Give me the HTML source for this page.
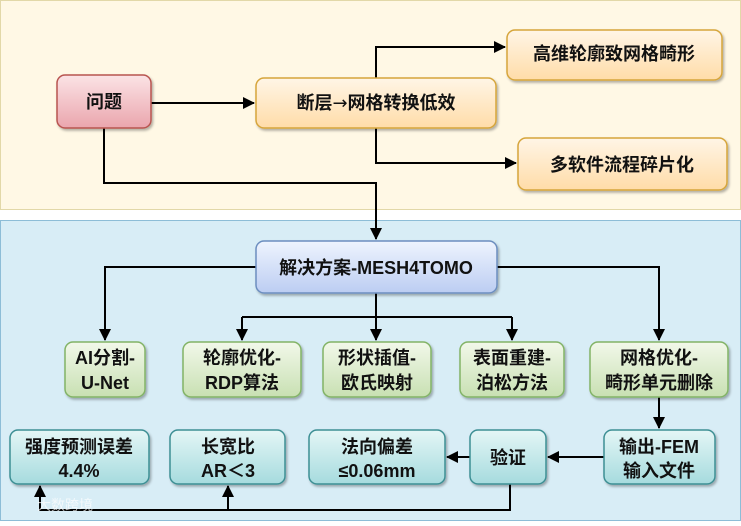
<!DOCTYPE html>
<html><head><meta charset="utf-8"><style>
html,body{margin:0;padding:0;background:#fff;}
svg text{font-family:"Liberation Sans","Noto Sans CJK SC",sans-serif;font-weight:bold;font-size:18px;fill:#111;text-anchor:middle;dominant-baseline:central;}
</style></head><body>
<svg width="741" height="521" viewBox="0 0 741 521" xmlns="http://www.w3.org/2000/svg">
<defs>
<linearGradient id="gp" x1="0" y1="0" x2="0" y2="1"><stop offset="0" stop-color="#fbe3e5"/><stop offset="1" stop-color="#eaa5ad"/></linearGradient>
<linearGradient id="go" x1="0" y1="0" x2="0" y2="1"><stop offset="0" stop-color="#fff5e6"/><stop offset="1" stop-color="#ffdca8"/></linearGradient>
<linearGradient id="gb" x1="0" y1="0" x2="0" y2="1"><stop offset="0" stop-color="#eef4fe"/><stop offset="1" stop-color="#bccdf2"/></linearGradient>
<linearGradient id="gg" x1="0" y1="0" x2="0" y2="1"><stop offset="0" stop-color="#f2f8ea"/><stop offset="1" stop-color="#c8e0b2"/></linearGradient>
<linearGradient id="gt" x1="0" y1="0" x2="0" y2="1"><stop offset="0" stop-color="#e4f6f6"/><stop offset="1" stop-color="#a6dbde"/></linearGradient>
<marker id="a" markerWidth="12" markerHeight="12" refX="11" refY="6" orient="auto" markerUnits="userSpaceOnUse"><path d="M0,0 L12,6 L0,12 Z" fill="#000"/></marker>
<filter id="s" x="-10%" y="-10%" width="130%" height="140%"><feDropShadow dx="1.5" dy="2" stdDeviation="1.2" flood-opacity="0.3"/></filter>
</defs>
<rect x="0.5" y="0.5" width="740" height="209" fill="#fff8e5" stroke="#e2d8a8"/>
<rect x="0.5" y="220.5" width="740" height="300" fill="#d8edf6" stroke="#8dbdd7"/>

<g fill="none" stroke="#000" stroke-width="2">
<path d="M151,103 H254" marker-end="url(#a)"/>
<path d="M376,78 V47 H505" marker-end="url(#a)"/>
<path d="M376,128 V163 H516" marker-end="url(#a)"/>
<path d="M104,128 V183 H376 V239" marker-end="url(#a)"/>
<path d="M256,267 H105 V340" marker-end="url(#a)"/>
<path d="M497,267 H659 V340" marker-end="url(#a)"/>
<path d="M376,293 V340" marker-end="url(#a)"/>
<path d="M242,317 H512"/>
<path d="M242,317 V340" marker-end="url(#a)"/>
<path d="M512,317 V340" marker-end="url(#a)"/>
<path d="M659,397 V428" marker-end="url(#a)"/>
<path d="M604,457 H548" marker-end="url(#a)"/>
<path d="M470,457 H447" marker-end="url(#a)"/>
<path d="M510,484 V510 H40 V486" marker-end="url(#a)"/>
<path d="M228,510 V486" marker-end="url(#a)"/>
</g>

<g filter="url(#s)" stroke-width="1.5">
<rect x="57" y="75" width="94" height="53" rx="8" fill="url(#gp)" stroke="#b85450"/>
<rect x="256" y="78" width="240" height="50" rx="8" fill="url(#go)" stroke="#d6a53b"/>
<rect x="507" y="30" width="215" height="50" rx="8" fill="url(#go)" stroke="#d6a53b"/>
<rect x="518" y="138" width="209" height="52" rx="8" fill="url(#go)" stroke="#d6a53b"/>
<rect x="256" y="241" width="241" height="52" rx="8" fill="url(#gb)" stroke="#6c8ebf"/>
<rect x="65" y="342" width="80" height="55" rx="8" fill="url(#gg)" stroke="#82b366"/>
<rect x="183" y="342" width="118" height="55" rx="8" fill="url(#gg)" stroke="#82b366"/>
<rect x="323" y="342" width="108" height="55" rx="8" fill="url(#gg)" stroke="#82b366"/>
<rect x="460" y="342" width="104" height="55" rx="8" fill="url(#gg)" stroke="#82b366"/>
<rect x="590" y="342" width="138" height="55" rx="8" fill="url(#gg)" stroke="#82b366"/>
<rect x="10" y="430" width="139" height="54" rx="8" fill="url(#gt)" stroke="#3d8f94"/>
<rect x="170" y="430" width="115" height="54" rx="8" fill="url(#gt)" stroke="#3d8f94"/>
<rect x="309" y="430" width="136" height="54" rx="8" fill="url(#gt)" stroke="#3d8f94"/>
<rect x="470" y="430" width="76" height="54" rx="8" fill="url(#gt)" stroke="#3d8f94"/>
<rect x="604" y="430" width="111" height="54" rx="8" fill="url(#gt)" stroke="#3d8f94"/>
</g>

<text x="104" y="102">问题</text>
<text x="376" y="103">断层<tspan style="font-family:'DejaVu Sans',sans-serif;font-weight:normal">→</tspan>网格转换低效</text>
<text x="614" y="54">高维轮廓致网格畸形</text>
<text x="622" y="165">多软件流程碎片化</text>
<text x="376" y="268">解决方案-MESH4TOMO</text>
<text x="105" y="358">AI分割-</text><text x="105" y="383">U-Net</text>
<text x="242" y="358">轮廓优化-</text><text x="242" y="383">RDP算法</text>
<text x="377" y="358">形状插值-</text><text x="377" y="383">欧氏映射</text>
<text x="512" y="358">表面重建-</text><text x="512" y="383">泊松方法</text>
<text x="659" y="358">网格优化-</text><text x="659" y="383">畸形单元删除</text>
<text x="79" y="447">强度预测误差</text><text x="79" y="471">4.4%</text>
<text x="228" y="447">长宽比</text><text x="228" y="471">AR＜3</text>
<text x="377" y="447">法向偏差</text><text x="377" y="471">≤0.06mm</text>
<text x="508" y="458">验证</text>
<text x="659" y="447">输出-FEM</text><text x="659" y="471">输入文件</text>
<text x="65" y="505" style="font-size:14px;fill:#ffffff;opacity:0.7;font-weight:normal">大数跨境</text>
</svg>
</body></html>
